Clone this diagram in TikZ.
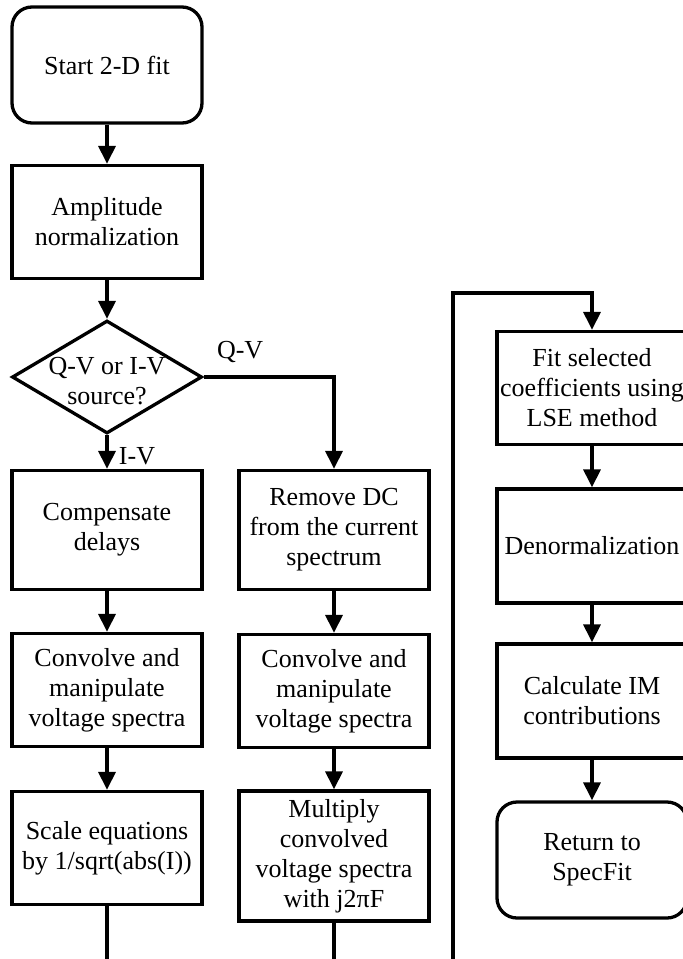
\documentclass[tikz,border=0pt]{standalone}
\usepackage{fontspec}
\setmainfont{Liberation Serif}
\usetikzlibrary{arrows.meta, shapes.geometric, positioning}

\begin{document}
\begin{tikzpicture}[x=1pt,y=-1pt,line width=3.3pt,font=\fontsize{26}{30}\selectfont,
	box/.style={rectangle,draw,minimum width=190pt,minimum height=113pt,align=center,inner sep=2pt},
	term/.style={box,rounded corners=20pt},
	decision/.style={diamond,draw,minimum width=190pt,minimum height=113pt,inner sep=0pt},
	flow/.style={-{Triangle[width=17pt,length=18pt]}}]
\useasboundingbox (0,0) rectangle (683,959);
% main column
\node[term,minimum height=116pt] (start) at (107,65) {Start 2-D fit};
\node[box] (amp) at (107,222) {Amplitude\\normalization};
\node[decision,label={[align=center,yshift=-4pt]center:{Q-V or I-V\\source?}}] (dec) at (107,377) {};
\node[box,minimum height=119pt] (comp) at (107,530) {Compensate\\delays};
\node[box] (conv1) at (107,690) {Convolve and\\manipulate\\voltage spectra};
\node[box] (scale) at (107,848) {Scale equations\\by 1/sqrt(abs(I))};
% Q-V branch
\node[box,minimum height=119pt] (rmdc) at (334,530) {Remove DC\\from the current\\spectrum};
\node[box] (conv2) at (334,691) {Convolve and\\manipulate\\voltage spectra};
\node[box,minimum height=130pt] (mult) at (334,856) {Multiply\\convolved\\voltage spectra\\with j2πF};
% fit column
\node[box] (fit) at (592,388) {Fit selected\\coefficients using\\LSE method};
\node[box,minimum height=114pt] (denorm) at (592,546) {Denormalization};
\node[box,minimum height=114pt] (calcim) at (592,701) {Calculate IM\\contributions};
\node[term,minimum height=116pt] (ret) at (592,860) {Return to\\SpecFit};
\coordinate (outL) at (107,970);
\coordinate (outM) at (334,970);
\coordinate (inR) at (453,970);
\coordinate (topR) at (453,293);
% connectors
\draw[flow] (start) -- (amp);
\draw[flow] (amp) -- (dec);
\draw[flow] (dec) -- node[right=7pt,yshift=-4pt]{I-V} (comp);
\draw[flow] (dec.east) -| node[pos=0.14,above=9pt]{Q-V} (rmdc);
\foreach \a/\b in {comp/conv1,conv1/scale,rmdc/conv2,conv2/mult,fit/denorm,denorm/calcim,calcim/ret}
	\draw[flow] (\a) -- (\b);
\draw (scale) -- (outL);
\draw (mult) -- (outM);
\draw[flow] (inR) -- (topR) -| (fit);
\end{tikzpicture}
\end{document}
